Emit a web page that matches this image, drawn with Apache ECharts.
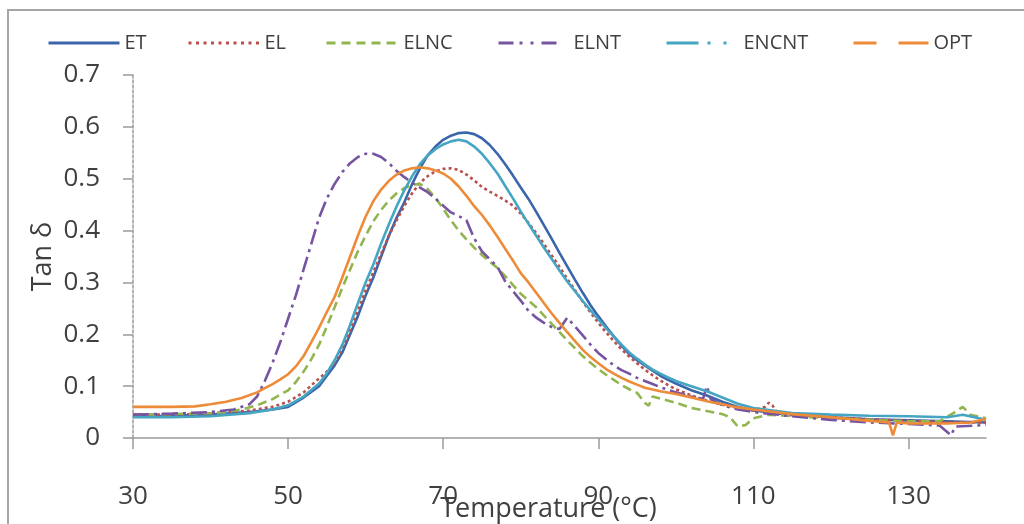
<!DOCTYPE html>
<html><head><meta charset="utf-8">
<script src="https://cdn.jsdelivr.net/npm/echarts@6/dist/echarts.min.js"></script>
<style>html,body{margin:0;padding:0;background:#fff}#c{width:1024px;height:524px}</style>
</head><body><div id="c"></div>
<script>
// ---- data ----
const seriesNames = ['ET', 'EL', 'ELNC', 'ELNT', 'ENCNT', 'OPT'];
const xTicks = [30, 50, 70, 90, 110, 130];
const yTicks = [0, 0.1, 0.2, 0.3, 0.4, 0.5, 0.6, 0.7];

const ET = [[30,0.042],[35,0.043],[40,0.045],[45,0.05],[48,0.055],[50,0.06],[52,0.078],[54,0.1],[55,0.12],[56,0.14],[57,0.165],[58,0.2],[59,0.235],[60,0.275],[61,0.31],[62,0.35],[63,0.39],[64,0.425],[65,0.455],[66,0.49],[67,0.52],[68,0.545],[69,0.562],[70,0.575],[71,0.583],[72,0.588],[73,0.589],[74,0.586],[75,0.578],[76,0.565],[77,0.548],[78,0.528],[79,0.506],[80,0.483],[81,0.461],[82,0.436],[83,0.41],[84,0.384],[85,0.357],[86,0.331],[87,0.305],[88,0.28],[89,0.256],[90,0.235],[91,0.215],[92,0.196],[93,0.178],[94,0.162],[95,0.15],[96,0.14],[97,0.13],[98,0.12],[99,0.112],[100,0.105],[102,0.092],[104,0.082],[106,0.07],[108,0.06],[110,0.053],[115,0.044],[120,0.04],[125,0.036],[130,0.034],[135,0.032],[140,0.03]];

const EL = [[30,0.045],[35,0.045],[40,0.047],[45,0.053],[48,0.06],[50,0.07],[52,0.088],[54,0.115],[55,0.128],[56,0.145],[57,0.172],[58,0.207],[59,0.245],[60,0.285],[61,0.32],[62,0.355],[63,0.39],[64,0.42],[65,0.448],[66,0.472],[67,0.492],[68,0.505],[69,0.514],[70,0.519],[71,0.52],[72,0.517],[73,0.508],[74,0.497],[75,0.484],[76,0.475],[77,0.467],[78,0.458],[79,0.448],[80,0.433],[81,0.415],[82,0.395],[83,0.374],[84,0.352],[85,0.33],[86,0.307],[87,0.285],[88,0.263],[89,0.242],[90,0.222],[91,0.204],[92,0.187],[93,0.171],[94,0.157],[95,0.144],[96,0.132],[97,0.121],[98,0.111],[99,0.102],[100,0.094],[102,0.082],[104,0.072],[106,0.064],[108,0.058],[110,0.053],[111.5,0.06],[112,0.068],[112.5,0.062],[113,0.05],[115,0.045],[120,0.04],[125,0.036],[130,0.033],[135,0.03],[140,0.03]];

const ELNC = [[30,0.045],[35,0.046],[40,0.048],[42,0.05],[44,0.055],[46,0.063],[48,0.075],[50,0.092],[51,0.108],[52,0.128],[53,0.152],[54,0.18],[55,0.215],[56,0.252],[57,0.29],[58,0.325],[59,0.36],[60,0.39],[61,0.418],[62,0.44],[63,0.458],[64,0.472],[65,0.482],[66,0.488],[67,0.49],[68,0.48],[69,0.463],[70,0.442],[71,0.42],[72,0.4],[73,0.383],[74,0.367],[75,0.353],[76,0.34],[77,0.328],[78,0.312],[79,0.295],[80,0.278],[81,0.265],[82,0.252],[83,0.236],[84,0.22],[85,0.204],[86,0.188],[87,0.173],[88,0.158],[89,0.145],[90,0.133],[91,0.122],[92,0.112],[93,0.102],[94,0.094],[95,0.087],[96,0.068],[96.5,0.062],[97,0.08],[98,0.076],[100,0.068],[102,0.058],[104,0.052],[106,0.046],[107,0.04],[108,0.022],[109,0.025],[110,0.038],[112,0.045],[115,0.042],[120,0.038],[125,0.035],[130,0.032],[134,0.032],[136,0.05],[137,0.06],[138,0.045],[140,0.038]];

const ELNT = [[30,0.045],[35,0.047],[40,0.05],[43,0.055],[45,0.065],[46,0.08],[47,0.11],[48,0.145],[49,0.185],[50,0.23],[51,0.275],[52,0.325],[53,0.375],[54,0.425],[55,0.462],[56,0.49],[57,0.513],[58,0.53],[59,0.542],[60,0.548],[61,0.548],[62,0.542],[63,0.53],[64,0.515],[65,0.503],[66,0.492],[67,0.483],[68,0.474],[69,0.462],[70,0.448],[71,0.435],[72,0.428],[73,0.42],[74,0.385],[75,0.36],[76,0.345],[77,0.33],[78,0.302],[79,0.283],[80,0.265],[81,0.245],[82,0.232],[83,0.222],[84,0.214],[85,0.21],[86,0.232],[87,0.215],[88,0.198],[89,0.18],[90,0.164],[91,0.152],[92,0.14],[93,0.131],[94,0.124],[95,0.116],[96,0.11],[97,0.104],[98,0.098],[100,0.088],[102,0.08],[103.5,0.075],[104,0.1],[104.5,0.075],[106,0.063],[108,0.055],[110,0.05],[115,0.042],[120,0.035],[125,0.03],[130,0.027],[134,0.024],[135.5,0.005],[136,0.022],[140,0.025]];

const ENCNT = [[30,0.04],[35,0.04],[40,0.042],[45,0.048],[48,0.055],[50,0.063],[52,0.08],[54,0.105],[55,0.125],[56,0.15],[57,0.18],[58,0.218],[59,0.26],[60,0.3],[61,0.335],[62,0.375],[63,0.412],[64,0.447],[65,0.478],[66,0.505],[67,0.528],[68,0.545],[69,0.557],[70,0.566],[71,0.572],[72,0.575],[73,0.572],[74,0.562],[75,0.548],[76,0.53],[77,0.51],[78,0.486],[79,0.462],[80,0.437],[81,0.413],[82,0.39],[83,0.367],[84,0.345],[85,0.323],[86,0.302],[87,0.283],[88,0.264],[89,0.246],[90,0.229],[91,0.212],[92,0.196],[93,0.18],[94,0.165],[95,0.153],[96,0.142],[97,0.132],[98,0.124],[99,0.117],[100,0.11],[102,0.1],[104,0.09],[106,0.078],[108,0.066],[110,0.058],[115,0.048],[120,0.045],[125,0.043],[130,0.042],[135,0.04],[137,0.045],[140,0.035]];

const OPT = [[30,0.06],[35,0.06],[38,0.061],[40,0.065],[42,0.07],[44,0.077],[46,0.088],[47,0.096],[48,0.104],[49,0.113],[50,0.123],[51,0.138],[52,0.158],[53,0.185],[54,0.213],[55,0.243],[56,0.272],[57,0.31],[58,0.35],[59,0.39],[60,0.427],[61,0.457],[62,0.479],[63,0.496],[64,0.508],[65,0.516],[66,0.52],[67,0.522],[68,0.52],[69,0.516],[70,0.51],[71,0.5],[72,0.485],[73,0.467],[74,0.447],[75,0.43],[76,0.41],[77,0.388],[78,0.365],[79,0.342],[80,0.318],[81,0.3],[82,0.28],[83,0.26],[84,0.24],[85,0.222],[86,0.204],[87,0.187],[88,0.17],[89,0.156],[90,0.144],[91,0.133],[92,0.124],[93,0.116],[94,0.109],[95,0.103],[96,0.097],[98,0.09],[100,0.085],[102,0.078],[104,0.071],[106,0.065],[108,0.059],[110,0.055],[115,0.046],[120,0.04],[125,0.033],[127.5,0.03],[128,0.005],[128.5,0.03],[130,0.028],[135,0.028],[138,0.03],[140,0.037]];

const seriesData = [ET, EL, ELNC, ELNT, ENCNT, OPT];

// ---- styles ----
const FONT = 'Open Sans';
const TXT = '#404040';
const colors = ['#3C66AC', '#B9504C', '#92B550', '#7654A2', '#45A5C3', '#EE8B38'];
const plotDash = ['solid', [3, 3], [9, 5], [16, 5, 3, 5], 'solid', 'solid'];
const legendCfg = [
  { left: 47,  w: 71, dash: 'solid' },
  { left: 187, w: 71, dash: [3, 4.5] },
  { left: 325, w: 72, dash: [9, 6] },
  { left: 497, w: 70, dash: [15, 6, 3, 8, 3, 8, 15, 30] },
  { left: 665, w: 72, dash: [32, 9, 3, 13, 3, 20] },
  { left: 852, w: 75, dash: [23, 22, 40] }
];

const chart = echarts.init(document.getElementById('c'), null, { renderer: 'canvas' });

const legends = seriesNames.map((n, i) => ({
  data: [n],
  left: legendCfg[i].left,
  top: 33,
  padding: 0,
  itemWidth: legendCfg[i].w,
  itemHeight: 14,
  selectedMode: false,
  itemStyle: { opacity: 0 },
  lineStyle: { type: legendCfg[i].dash, width: 3, color: colors[i] },
  textStyle: { fontFamily: FONT, fontSize: 20, color: TXT }
}));

const series = seriesNames.map((n, i) => ({
  name: n,
  type: 'line',
  data: seriesData[i],
  symbol: 'none',
  showSymbol: false,
  color: colors[i],
  lineStyle: { color: colors[i], width: 2.6, type: plotDash[i] },
  z: 2 + i
}));

chart.setOption({
  animation: false,
  backgroundColor: '#fff',
  graphic: [{
    type: 'rect',
    shape: { x: 8, y: 10, width: 1100, height: 600 },
    style: { fill: 'none', stroke: '#a6a6a6', lineWidth: 2 },
    silent: true
  }],
  legend: legends,
  grid: { left: 133, right: 38, top: 75, bottom: 86, containLabel: false, outerBoundsMode: 'none' },
  xAxis: {
    type: 'value', min: 30, max: 140, interval: 10,
    name: 'Temperature (°C)', nameLocation: 'middle', nameGap: 58, nameMoveOverlap: false,
    nameTextStyle: { fontFamily: FONT, fontSize: 27, color: TXT, padding: [0, 22, 0, 0] },
    axisLine: { show: true, lineStyle: { color: '#9a9a9a', width: 1.5 } },
    axisTick: { show: true, length: 11, inside: false, customValues: xTicks, lineStyle: { color: '#9a9a9a', width: 1.5 } },
    axisLabel: { customValues: xTicks, margin: 46, fontFamily: FONT, fontSize: 26, color: TXT },
    splitLine: { show: false }
  },
  yAxis: {
    type: 'value', min: 0, max: 0.7, interval: 0.1,
    name: 'Tan δ', nameLocation: 'middle', nameGap: 76, nameMoveOverlap: false,
    nameTextStyle: { fontFamily: FONT, fontSize: 27, color: TXT },
    axisLine: { show: true, lineStyle: { color: '#9a9a9a', width: 1.5, type: [3, 2] } },
    axisTick: { show: true, length: 10, inside: false, customValues: yTicks, lineStyle: { color: '#9a9a9a', width: 1.5 } },
    axisLabel: { customValues: yTicks, margin: 33, fontFamily: FONT, fontSize: 26, color: TXT },
    splitLine: { show: false }
  },
  series: series
});
</script>
</body></html>
